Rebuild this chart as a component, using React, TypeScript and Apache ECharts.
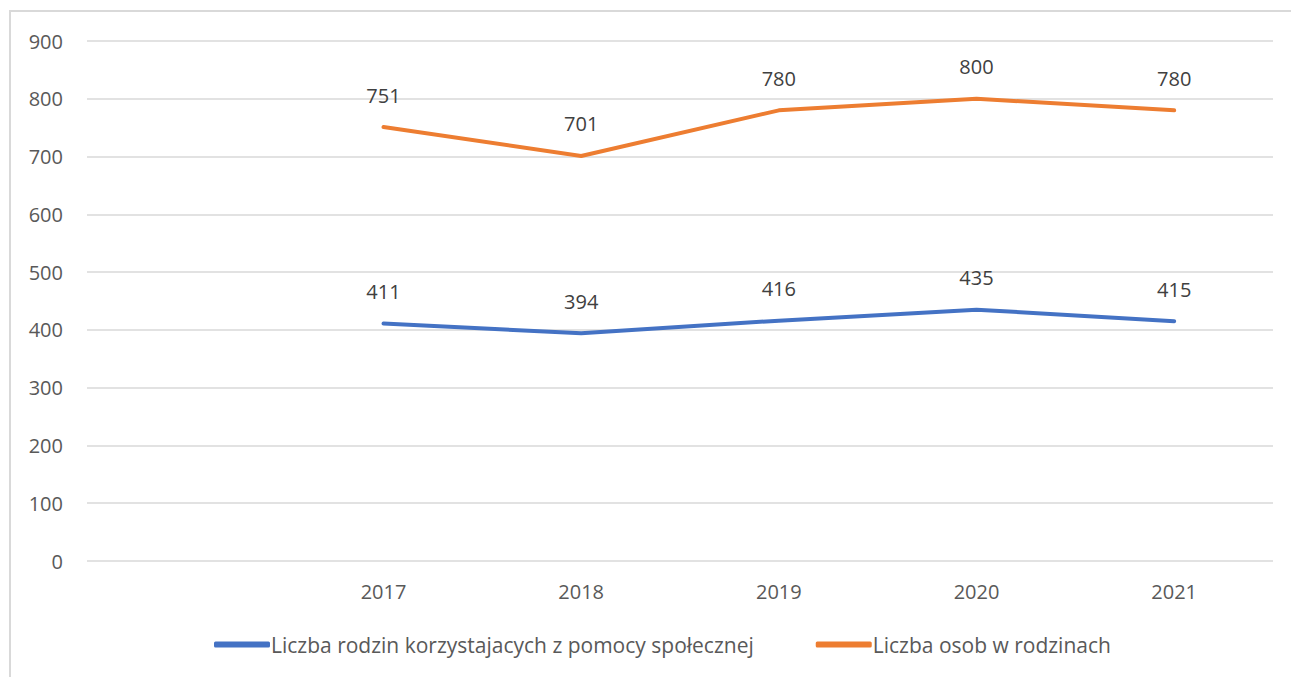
import React, { useEffect, useRef } from "react";
import * as echarts from "echarts";

const categories = ["", "2017", "2018", "2019", "2020", "2021"];
const families = [null, 411, 394, 416, 435, 415];
const persons = [null, 751, 701, 780, 800, 780];
const seriesNames = [
  "Liczba rodzin korzystajacych z pomocy społecznej",
  "Liczba osob w rodzinach",
];

const FONT = "'Open Sans', 'Noto Sans', sans-serif";

export default function App() {
  const ref = useRef<HTMLDivElement>(null);
  useEffect(() => {
    const chart = echarts.init(ref.current!, null, { renderer: "svg" });
    const lbl = {
      show: true,
      position: "top",
      distance: 22,
      color: "#404040",
      fontSize: 20,
      fontFamily: FONT,
    };
    chart.setOption({
      animation: false,
      backgroundColor: "#ffffff",
      graphic: [
        {
          type: "rect",
          shape: { x: 10, y: 11, width: 1300, height: 700 },
          style: { fill: "none", stroke: "#d9d9d9", lineWidth: 2 },
          silent: true,
        },
      ],
      grid: { left: 87, right: 18, top: 41, bottom: 116 },
      legend: {
        top: 629,
        left: 209,
        itemWidth: 56,
        itemHeight: 6,
        itemGap: 62,
        icon: "roundRect",
        textStyle: { color: "#595959", fontSize: 21, fontFamily: FONT, padding: [0, 0, 0, -4] },
        data: seriesNames,
      },
      xAxis: {
        type: "category",
        data: categories,
        boundaryGap: true,
        axisLine: { show: false },
        axisTick: { show: false },
        axisLabel: { color: "#595959", fontSize: 20, fontFamily: FONT, margin: 20 },
      },
      yAxis: {
        type: "value",
        min: 0,
        max: 900,
        interval: 100,
        axisLine: { show: false },
        axisTick: { show: false },
        axisLabel: { color: "#595959", fontSize: 20, fontFamily: FONT, margin: 24 },
        splitLine: { lineStyle: { color: "#d9d9d9", width: 1.5 } },
      },
      series: [
        {
          name: seriesNames[0],
          type: "line",
          data: families,
          symbol: "circle",
          symbolSize: 0,
          lineStyle: { color: "#4472C4", width: 4, cap: "round" },
          itemStyle: { color: "#4472C4" },
          label: lbl,
        },
        {
          name: seriesNames[1],
          type: "line",
          data: persons,
          symbol: "circle",
          symbolSize: 0,
          lineStyle: { color: "#ED7D31", width: 4, cap: "round" },
          itemStyle: { color: "#ED7D31" },
          label: lbl,
        },
      ],
    });
    return () => chart.dispose();
  }, []);
  return (
    <div
      ref={ref}
      style={{ position: "absolute", left: 0, top: 0, width: 1291, height: 677 }}
    />
  );
}
